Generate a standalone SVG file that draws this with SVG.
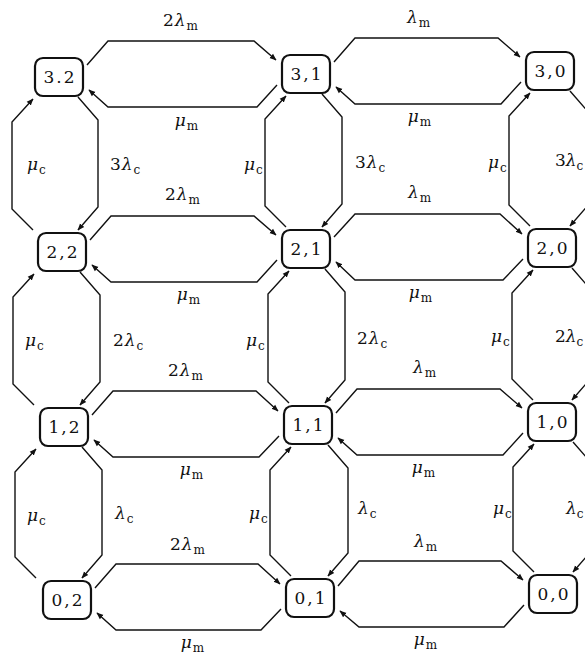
<svg xmlns="http://www.w3.org/2000/svg" width="585" height="654" viewBox="0 0 585 654">
<style>
.node rect{fill:#fff;stroke:#111;stroke-width:2.2}
.node text{font-family:"DejaVu Serif","Liberation Serif",serif;font-size:17px;letter-spacing:2px;text-anchor:middle;fill:#111}
.c{fill:none;stroke:#111;stroke-width:1.4;marker-end:url(#ah)}
.lb{font-family:"DejaVu Serif","Liberation Serif",serif;font-size:17px;fill:#111;letter-spacing:1px}
.tight{letter-spacing:0}
.mid{text-anchor:middle}
.g{font-style:italic}
.s{font-size:12px}
</style>
<defs>
<marker id="ah" viewBox="0 0 10 10" refX="9" refY="5" markerWidth="7" markerHeight="7" markerUnits="userSpaceOnUse" orient="auto">
<path d="M0,1 L10,5 L0,9 z" fill="#111"/>
</marker>
</defs>
<rect width="585" height="654" fill="#fff"/>
<g id="connectors">
<path class="c" d="M87,65 L108,41 L254,41 L276,60"/>
<path class="c" d="M277,85 L257,107 L108,107 L89,90"/>
<path class="c" d="M334,62 L355,38 L498,38 L520,57"/>
<path class="c" d="M521,82 L501,104 L355,104 L336,87"/>
<path class="c" d="M90,240 L111,216 L254,216 L276,235"/>
<path class="c" d="M277,260 L257,282 L111,282 L92,265"/>
<path class="c" d="M334,237 L355,214 L500,214 L522,234"/>
<path class="c" d="M523,259 L503,280 L355,280 L336,262"/>
<path class="c" d="M92,415 L113,391 L256,391 L278,411"/>
<path class="c" d="M279,436 L259,457 L113,457 L94,440"/>
<path class="c" d="M336,413 L357,389 L500,389 L522,408"/>
<path class="c" d="M523,433 L503,455 L357,455 L338,438"/>
<path class="c" d="M95,588 L116,564 L258,564 L280,584"/>
<path class="c" d="M281,609 L261,630 L116,630 L97,613"/>
<path class="c" d="M338,586 L359,561 L501,561 L523,580"/>
<path class="c" d="M524,605 L504,627 L359,627 L340,611"/>
<path class="c" d="M33,230 L12,209 L12,122 L33,99"/>
<path class="c" d="M78,97 L98,120 L98,207 L78,230"/>
<path class="c" d="M34,405 L13,384 L13,297 L34,274"/>
<path class="c" d="M80,272 L100,295 L100,382 L80,405"/>
<path class="c" d="M36,578 L15,557 L15,472 L36,449"/>
<path class="c" d="M82,447 L102,470 L102,555 L82,578"/>
<path class="c" d="M286,227 L265,206 L265,119 L286,96"/>
<path class="c" d="M322,94 L342,117 L342,204 L322,227"/>
<path class="c" d="M289,403 L268,382 L268,294 L289,271"/>
<path class="c" d="M325,269 L345,292 L345,380 L325,403"/>
<path class="c" d="M291,576 L270,555 L270,470 L291,447"/>
<path class="c" d="M328,445 L348,468 L348,553 L328,576"/>
<path class="c" d="M530,226 L509,205 L509,116 L530,93"/>
<path class="c" d="M570,91 L590,114 L590,203 L570,226"/>
<path class="c" d="M533,400 L512,379 L512,293 L533,270"/>
<path class="c" d="M572,268 L592,291 L592,377 L572,400"/>
<path class="c" d="M534,572 L513,551 L513,467 L534,444"/>
<path class="c" d="M573,442 L593,465 L593,549 L573,572"/>
</g>
<g id="labels">
<text class="lb mid" x="181" y="26">2<tspan class="g">λ</tspan><tspan class="s" dy="4">m</tspan></text>
<text class="lb mid" x="187" y="126"><tspan class="g">μ</tspan><tspan class="s" dy="4">m</tspan></text>
<text class="lb mid" x="419" y="23"><tspan class="g">λ</tspan><tspan class="s" dy="4">m</tspan></text>
<text class="lb mid" x="420" y="122"><tspan class="g">μ</tspan><tspan class="s" dy="4">m</tspan></text>
<text class="lb mid" x="183" y="200">2<tspan class="g">λ</tspan><tspan class="s" dy="4">m</tspan></text>
<text class="lb mid" x="189" y="300"><tspan class="g">μ</tspan><tspan class="s" dy="4">m</tspan></text>
<text class="lb mid" x="420" y="198"><tspan class="g">λ</tspan><tspan class="s" dy="4">m</tspan></text>
<text class="lb mid" x="421" y="298"><tspan class="g">μ</tspan><tspan class="s" dy="4">m</tspan></text>
<text class="lb mid" x="186" y="376">2<tspan class="g">λ</tspan><tspan class="s" dy="4">m</tspan></text>
<text class="lb mid" x="192" y="475"><tspan class="g">μ</tspan><tspan class="s" dy="4">m</tspan></text>
<text class="lb mid" x="425" y="373"><tspan class="g">λ</tspan><tspan class="s" dy="4">m</tspan></text>
<text class="lb mid" x="424" y="473"><tspan class="g">μ</tspan><tspan class="s" dy="4">m</tspan></text>
<text class="lb mid" x="188" y="550">2<tspan class="g">λ</tspan><tspan class="s" dy="4">m</tspan></text>
<text class="lb mid" x="193" y="648"><tspan class="g">μ</tspan><tspan class="s" dy="4">m</tspan></text>
<text class="lb mid" x="426" y="547"><tspan class="g">λ</tspan><tspan class="s" dy="4">m</tspan></text>
<text class="lb mid" x="426" y="645"><tspan class="g">μ</tspan><tspan class="s" dy="4">m</tspan></text>
<text class="lb" x="27" y="170"><tspan class="g">μ</tspan><tspan class="s" dy="4">c</tspan></text>
<text class="lb" x="110" y="170">3<tspan class="g">λ</tspan><tspan class="s" dy="4">c</tspan></text>
<text class="lb" x="244" y="170"><tspan class="g">μ</tspan><tspan class="s" dy="4">c</tspan></text>
<text class="lb" x="355" y="168">3<tspan class="g">λ</tspan><tspan class="s" dy="4">c</tspan></text>
<text class="lb" x="488" y="168"><tspan class="g">μ</tspan><tspan class="s" dy="4">c</tspan></text>
<text class="lb tight" x="555" y="166">3<tspan class="g">λ</tspan><tspan class="s" dy="4">c</tspan></text>
<text class="lb" x="25" y="346"><tspan class="g">μ</tspan><tspan class="s" dy="4">c</tspan></text>
<text class="lb" x="113" y="346">2<tspan class="g">λ</tspan><tspan class="s" dy="4">c</tspan></text>
<text class="lb" x="246" y="346"><tspan class="g">μ</tspan><tspan class="s" dy="4">c</tspan></text>
<text class="lb" x="357" y="344">2<tspan class="g">λ</tspan><tspan class="s" dy="4">c</tspan></text>
<text class="lb" x="491" y="342"><tspan class="g">μ</tspan><tspan class="s" dy="4">c</tspan></text>
<text class="lb tight" x="555" y="342">2<tspan class="g">λ</tspan><tspan class="s" dy="4">c</tspan></text>
<text class="lb" x="27" y="521"><tspan class="g">μ</tspan><tspan class="s" dy="4">c</tspan></text>
<text class="lb" x="115" y="519"><tspan class="g">λ</tspan><tspan class="s" dy="4">c</tspan></text>
<text class="lb" x="249" y="519"><tspan class="g">μ</tspan><tspan class="s" dy="4">c</tspan></text>
<text class="lb" x="358" y="514"><tspan class="g">λ</tspan><tspan class="s" dy="4">c</tspan></text>
<text class="lb" x="493" y="514"><tspan class="g">μ</tspan><tspan class="s" dy="4">c</tspan></text>
<text class="lb tight" x="566" y="514"><tspan class="g">λ</tspan><tspan class="s" dy="4">c</tspan></text>
</g>
<g id="n32" class="node"><rect x="35" y="58" width="48" height="38" rx="8"/><text x="60" y="83">3.2</text></g>
<g id="n31" class="node"><rect x="282" y="55" width="48" height="38" rx="8"/><text x="307" y="80">3,1</text></g>
<g id="n30" class="node"><rect x="526" y="52" width="48" height="38" rx="8"/><text x="551" y="77">3,0</text></g>
<g id="n22" class="node"><rect x="38" y="233" width="48" height="38" rx="8"/><text x="63" y="258">2,2</text></g>
<g id="n21" class="node"><rect x="282" y="230" width="48" height="38" rx="8"/><text x="307" y="255">2,1</text></g>
<g id="n20" class="node"><rect x="528" y="229" width="48" height="38" rx="8"/><text x="553" y="254">2,0</text></g>
<g id="n12" class="node"><rect x="40" y="408" width="48" height="38" rx="8"/><text x="65" y="433">1,2</text></g>
<g id="n11" class="node"><rect x="284" y="406" width="48" height="38" rx="8"/><text x="309" y="431">1,1</text></g>
<g id="n10" class="node"><rect x="528" y="403" width="48" height="38" rx="8"/><text x="553" y="428">1,0</text></g>
<g id="n02" class="node"><rect x="43" y="581" width="48" height="38" rx="8"/><text x="68" y="606">0,2</text></g>
<g id="n01" class="node"><rect x="286" y="579" width="48" height="38" rx="8"/><text x="311" y="604">0,1</text></g>
<g id="n00" class="node"><rect x="529" y="575" width="48" height="38" rx="8"/><text x="554" y="600">0,0</text></g>
</svg>
